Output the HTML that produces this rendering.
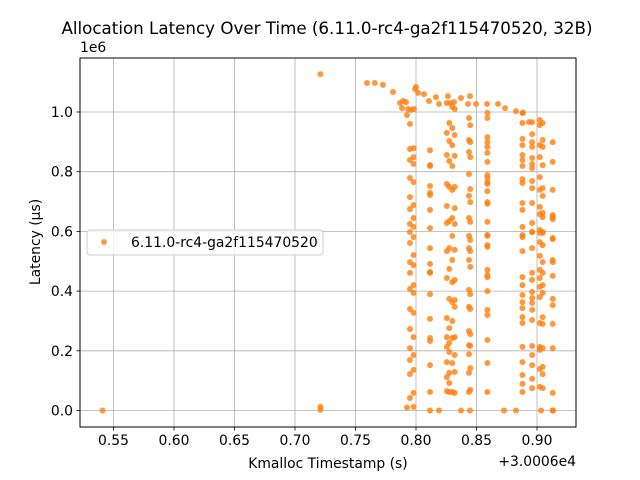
<!DOCTYPE html>
<html><head><meta charset="utf-8"><style>
body{margin:0;background:#fff;}
svg{display:block;font-family:"DejaVu Sans","Liberation Sans",sans-serif;}
</style></head><body>
<svg id="chart" width="640" height="480" viewBox="0 0 640 480">
<rect width="640" height="480" fill="#fff"/>
<text x="327" y="34" font-size="16.7" text-anchor="middle">Allocation Latency Over Time (6.11.0-rc4-ga2f115470520, 32B)</text>
<g id="grid"></g>
<g id="points"></g>
<rect x="80" y="58" width="496" height="369" fill="none" stroke="#000" stroke-width="1"/>
<g id="xticks"></g>
<g id="yticks"></g>
<text x="80" y="52" font-size="13.9">1e6</text>
<text x="576" y="466" font-size="13.9" text-anchor="end">+3.0006e4</text>
<text x="328" y="468" font-size="13.9" text-anchor="middle">Kmalloc Timestamp (s)</text>
<text transform="translate(40,242) rotate(-90)" font-size="13.9" text-anchor="middle">Latency (µs)</text>
<g>
<rect x="87" y="230" width="236" height="25" rx="3" fill="#fff" fill-opacity="0.8" stroke="#ccc"/>
<circle cx="104" cy="242" r="3" fill="#ff7f0e" fill-opacity="0.8"/>
<text x="131" y="247" font-size="13.9">6.11.0-rc4-ga2f115470520</text>
</g>
</svg>
<script>
const xTicks=[0.55,0.60,0.65,0.70,0.75,0.80,0.85,0.90];
const xTickLabels=["0.55","0.60","0.65","0.70","0.75","0.80","0.85","0.90"];
const yTicks=[0,0.2,0.4,0.6,0.8,1.0];
const yTickLabels=["0.0","0.2","0.4","0.6","0.8","1.0"];
const singleX=[0.541,0.721,0.721,0.721];
const singleY=[0,1.127,0.012,0.002];
const arcX=[0.7595,0.766,0.7727,0.781,0.7868,0.7893,0.7917,0.7884,0.7934,0.7959,0.7926,0.7983,0.7992,0.8,0.8017,0.8066,0.8107,0.8165,0.819,0.8264,0.828,0.8314,0.8372,0.843,0.8446,0.8496,0.8587,0.8678,0.8736,0.8826,0.8884,0.8934];
const arcY=[1.097,1.097,1.091,1.067,1.030,1.037,1.033,1.013,1.010,1.007,0.990,1.010,1.077,1.084,1.064,1.060,1.037,1.050,1.027,1.053,1.030,1.033,1.047,1.027,1.053,1.027,1.027,1.027,1.013,1.003,0.997,0.966];
const zeroX=[0.7926,0.8116,0.8190,0.8372,0.8446,0.8727,0.8826,0.9033,0.9132];
const zeroY=[0.01,0,0,0,0,0,0,0,0];
const colX=[0.7965,0.8116,0.8265,0.831,0.8443,0.859,0.892,0.9035,0.913];
const colA=[.960,.879,.876,.849,.839,.826,.779,.765,.715,.688,.675,.645,.625,.615,.598,.581,.561,.521,.497,.487,.461,.420,.407,.394,.340,.327,.273,.246,.209,.186,.169,.136,.122,.059,.042,.012];
const colB=[.872,.822,.819,.752,.729,.722,.672,.611,.544,.491,.464,.461,.390,.307,.243,.233,.152,.062];
const colC=[1.030,.963,.930,.903,.856,.836,.759,.749,.685,.635,.628,.544,.534,.474,.444,.374,.310,.276,.246,.226,.213,.196,.162,.126,.112,.092,.065,.062];
const colD=[1.017,1.010,.946,.923,.889,.853,.819,.749,.739,.678,.645,.625,.585,.538,.504,.437,.430,.370,.363,.347,.300,.246,.243,.186,.159,.129,.062,.059];
const colE=[.980,.956,.906,.899,.866,.849,.792,.742,.719,.698,.645,.632,.585,.571,.544,.534,.504,.481,.404,.390,.347,.340,.266,.256,.219,.216,.189,.142,.126,.069,.062];
const colF=[.997,.980,.916,.899,.883,.863,.833,.789,.779,.765,.759,.735,.698,.692,.632,.585,.588,.554,.548,.471,.454,.447,.400,.337,.320,.236,.159,.062];
const colG=[.997,.966,.963,.926,.910,.899,.889,.883,.856,.846,.839,.826,.819,.812,.775,.769,.762,.745,.695,.695,.672,.628,.615,.598,.588,.598,.581,.544,.534,.461,.447,.437,.420,.397,.387,.377,.363,.360,.343,.337,.313,.303,.293,.216,.213,.186,.162,.152,.119,.106,.089,.075,.062];
const colH=[.973,.963,.956,.906,.889,.883,.849,.822,.782,.745,.739,.719,.682,.662,.658,.648,.605,.598,.595,.595,.564,.554,.518,.497,.471,.461,.444,.420,.414,.394,.380,.313,.293,.290,.213,.209,.203,.146,.139,.122,.079,.075];
const colI=[.899,.833,.739,.655,.648,.641,.578,.574,.504,.497,.451,.374,.353,.290,.209,.059,0];
const columns=[colA,colB,colC,colD,colE,colF,colG,colH,colI];
const colJitter=[0.0015,0,0.001,0.001,0.0005,0,0.004,0.0012,0];

const NS="http://www.w3.org/2000/svg";
function xs(v){return 537+(v-0.90)*1210;}
function ys(v){return 410.5-v*298.5;}
function mk(tag,attrs,parent){const e=document.createElementNS(NS,tag);for(const k in attrs)e.setAttribute(k,attrs[k]);parent.appendChild(e);return e;}
const grid=document.getElementById('grid'),xt=document.getElementById('xticks'),yt=document.getElementById('yticks'),pts=document.getElementById('points');
xTicks.forEach((t,i)=>{const x=xs(t);
 const g=mk('line',{x1:x,x2:x,y1:58,y2:427,stroke:'#b0b0b0','stroke-width':0.8},grid);
 
 
 mk('line',{x1:x,x2:x,y1:427,y2:430.5,stroke:'#000','stroke-width':0.8},xt);
 const tx=mk('text',{x:x,y:445,'font-size':13.9,'text-anchor':'middle'},xt);tx.textContent=xTickLabels[i];
 
 
});
yTicks.forEach((t,i)=>{const y=ys(t);
 const g=mk('line',{x1:80,x2:576,y1:y,y2:y,stroke:'#b0b0b0','stroke-width':0.8},grid);
 
 
 mk('line',{x1:76.5,x2:80,y1:y,y2:y,stroke:'#000','stroke-width':0.8},yt);
 const tx=mk('text',{x:73,y:y+5,'font-size':13.9,'text-anchor':'end'},yt);tx.textContent=yTickLabels[i];
 
 
});
function dot(x,y){const c=mk('circle',{cx:xs(x),cy:ys(y),r:3,fill:'#ff7f0e','fill-opacity':0.8},pts);
 
 }
singleX.forEach((x,i)=>dot(x,singleY[i]));
arcX.forEach((x,i)=>dot(x,arcY[i]));
zeroX.forEach((x,i)=>dot(x,zeroY[i]));
columns.forEach((col,ci)=>col.forEach((y,j)=>dot(colX[ci]+(j%2?colJitter[ci]:-colJitter[ci]),y)));
</script>
</body></html>
